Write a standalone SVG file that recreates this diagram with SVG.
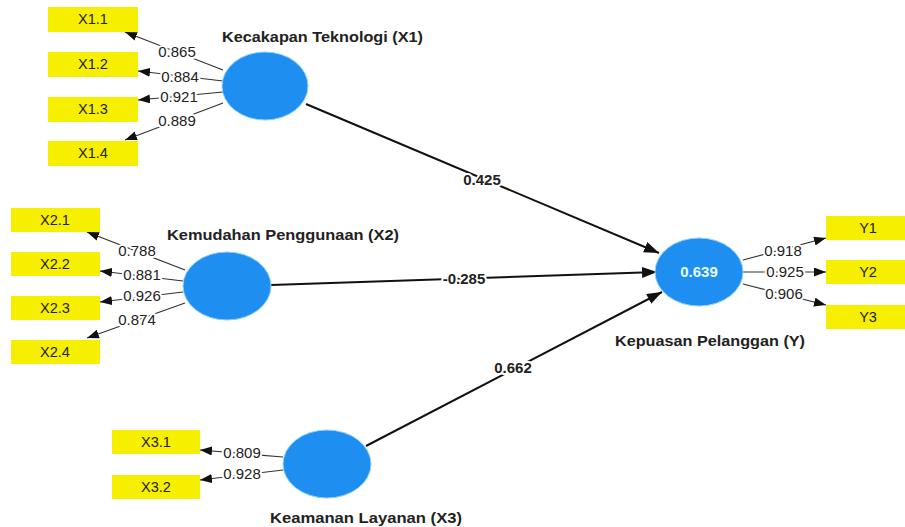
<svg xmlns="http://www.w3.org/2000/svg" width="905" height="527" viewBox="0 0 905 527">
<style>
.lv{fill:#1e8ff0;stroke:#8fd0ff;stroke-width:1}
.ind rect{fill:#f7ef00}
.ind text{font-family:"Liberation Sans",Arial,sans-serif;font-size:14.5px;fill:#222;text-anchor:middle}
.title{font-family:"Liberation Sans",Arial,sans-serif;font-size:15px;font-weight:bold;fill:#222}
.ld{stroke:#333;stroke-width:1.2;fill:none;marker-end:url(#a1)}
.pth{stroke:#111;stroke-width:2;fill:none;marker-end:url(#a2)}
.lbl{font-family:"Liberation Sans",Arial,sans-serif;font-size:15px;fill:#222;text-anchor:middle;stroke:#fff;stroke-width:4;paint-order:stroke;stroke-linejoin:round}
.plbl{font-family:"Liberation Sans",Arial,sans-serif;font-size:15px;font-weight:bold;fill:#222;text-anchor:middle;stroke:#fff;stroke-width:4;paint-order:stroke;stroke-linejoin:round}
</style>
<defs>
<marker id="a1" markerUnits="userSpaceOnUse" markerWidth="13" markerHeight="10" refX="12" refY="4.5" orient="auto"><path d="M0,0 L12,4.5 L0,9 z" fill="#111"/></marker>
<marker id="a2" markerUnits="userSpaceOnUse" markerWidth="16" markerHeight="12" refX="15" refY="5.5" orient="auto"><path d="M0,0 L15,5.5 L0,11 z" fill="#111"/></marker>
</defs>
<rect width="905" height="527" fill="#fff"/>

<g id="connectors">
<line class="ld" x1="223" y1="70" x2="125" y2="32"/>
<line class="ld" x1="223" y1="81" x2="138" y2="71"/>
<line class="ld" x1="223" y1="92" x2="138" y2="100"/>
<line class="ld" x1="223" y1="103" x2="125" y2="140"/>
<line class="ld" x1="185" y1="270" x2="87" y2="232"/>
<line class="ld" x1="183" y1="281" x2="100" y2="271"/>
<line class="ld" x1="183" y1="292" x2="100" y2="302"/>
<line class="ld" x1="185" y1="303" x2="87" y2="338"/>
<line class="ld" x1="283" y1="457" x2="200" y2="450"/>
<line class="ld" x1="283" y1="470" x2="200" y2="480"/>
<line class="ld" x1="743" y1="260" x2="826" y2="238"/>
<line class="ld" x1="743" y1="272" x2="826" y2="272"/>
<line class="ld" x1="743" y1="284" x2="826" y2="305"/>
<line class="pth" x1="306" y1="104" x2="659" y2="253"/>
<line class="pth" x1="271" y1="285" x2="657" y2="272"/>
<line class="pth" x1="366" y1="446" x2="662" y2="292"/>
<text class="lbl" x="177" y="57">0.865</text>
<text class="lbl" x="180" y="82">0.884</text>
<text class="lbl" x="179" y="102">0.921</text>
<text class="lbl" x="177" y="126">0.889</text>
<text class="lbl" x="137" y="256">0.788</text>
<text class="lbl" x="142" y="280">0.881</text>
<text class="lbl" x="142" y="301">0.926</text>
<text class="lbl" x="137" y="325">0.874</text>
<text class="lbl" x="242" y="458">0.809</text>
<text class="lbl" x="242" y="479">0.928</text>
<text class="lbl" x="783" y="256">0.918</text>
<text class="lbl" x="785" y="277">0.925</text>
<text class="lbl" x="784" y="299">0.906</text>
<text class="plbl" x="482" y="185">0.425</text>
<text class="plbl" x="464" y="284">-0.285</text>
<text class="plbl" x="513" y="373">0.662</text>
</g>

<g id="X1">
<ellipse class="lv" cx="265" cy="86" rx="43" ry="34"/>
<text class="title" x="222" y="42" textLength="201" lengthAdjust="spacingAndGlyphs">Kecakapan Teknologi (X1)</text>
</g>
<g id="X2">
<ellipse class="lv" cx="227" cy="286" rx="44" ry="34"/>
<text class="title" x="167" y="240" textLength="232" lengthAdjust="spacingAndGlyphs">Kemudahan Penggunaan (X2)</text>
</g>
<g id="X3">
<ellipse class="lv" cx="327" cy="464" rx="44" ry="34"/>
<text class="title" x="270" y="523" textLength="192" lengthAdjust="spacingAndGlyphs">Keamanan Layanan (X3)</text>
</g>
<g id="Y">
<ellipse class="lv" cx="699" cy="272" rx="44" ry="34"/>
<text x="699" y="277" text-anchor="middle" font-family="Liberation Sans, Arial, sans-serif" font-size="15" font-weight="bold" fill="#e6fbff">0.639</text>
<text class="title" x="615" y="346" textLength="190" lengthAdjust="spacingAndGlyphs">Kepuasan Pelanggan (Y)</text>
</g>

<g id="X1.1" class="ind"><rect x="48" y="7" width="90" height="25"/><text x="93" y="24">X1.1</text></g>
<g id="X1.2" class="ind"><rect x="48" y="52" width="90" height="25"/><text x="93" y="69">X1.2</text></g>
<g id="X1.3" class="ind"><rect x="48" y="97" width="90" height="25"/><text x="93" y="114">X1.3</text></g>
<g id="X1.4" class="ind"><rect x="48" y="141" width="90" height="25"/><text x="93" y="158">X1.4</text></g>
<g id="X2.1" class="ind"><rect x="11" y="208" width="89" height="24"/><text x="55" y="225">X2.1</text></g>
<g id="X2.2" class="ind"><rect x="11" y="252" width="89" height="24"/><text x="55" y="269">X2.2</text></g>
<g id="X2.3" class="ind"><rect x="11" y="296" width="89" height="24"/><text x="55" y="313">X2.3</text></g>
<g id="X2.4" class="ind"><rect x="11" y="340" width="89" height="24"/><text x="55" y="357">X2.4</text></g>
<g id="X3.1" class="ind"><rect x="112" y="430" width="88" height="24"/><text x="156" y="447">X3.1</text></g>
<g id="X3.2" class="ind"><rect x="112" y="475" width="88" height="24"/><text x="156" y="492">X3.2</text></g>
<g id="Y1" class="ind"><rect x="826" y="216" width="90" height="24"/><text x="868" y="233">Y1</text></g>
<g id="Y2" class="ind"><rect x="826" y="260" width="90" height="24"/><text x="868" y="277">Y2</text></g>
<g id="Y3" class="ind"><rect x="826" y="305" width="90" height="24"/><text x="868" y="322">Y3</text></g>
</svg>
